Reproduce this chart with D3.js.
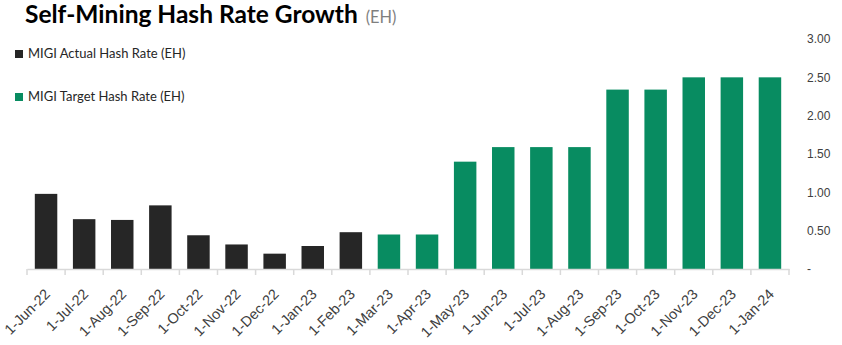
<!DOCTYPE html>
<html><head><meta charset="utf-8">
<script src="https://cdn.jsdelivr.net/npm/d3@7"></script>
<style>
html,body{margin:0;padding:0;background:#fff;}
svg{display:block;font-family:Lato,"Open Sans",sans-serif;}
</style></head>
<body>
<svg id="chart" width="842" height="345"></svg>
<script>
const categories = ["1-Jun-22","1-Jul-22","1-Aug-22","1-Sep-22","1-Oct-22","1-Nov-22","1-Dec-22","1-Jan-23","1-Feb-23","1-Mar-23","1-Apr-23","1-May-23","1-Jun-23","1-Jul-23","1-Aug-23","1-Sep-23","1-Oct-23","1-Nov-23","1-Dec-23","1-Jan-24"];
const values = [0.98,0.65,0.64,0.83,0.44,0.32,0.20,0.30,0.48,0.45,0.45,1.40,1.59,1.59,1.59,2.34,2.34,2.50,2.50,2.50];
const seriesOf = ["actual","actual","actual","actual","actual","actual","actual","actual","actual","target","target","target","target","target","target","target","target","target","target","target"];
const seriesNames = ["MIGI Actual Hash Rate (EH)","MIGI Target Hash Rate (EH)"];
const seriesKeys = ["actual","target"];
const seriesColors = ["#262626","#088c61"];
const yTicks = [0,0.5,1,1.5,2,2.5,3];
const yTickLabels = ["-","0.50","1.00","1.50","2.00","2.50","3.00"];

const svg = d3.select("#chart");
const color = d3.scaleOrdinal().domain(seriesKeys).range(seriesColors);
const x = d3.scaleBand().domain(categories).range([27,789]).paddingInner(0.41).paddingOuter(0.205);
const y = d3.scaleLinear().domain([0,3]).range([269,39]);

// title
const title = svg.append("text").attr("x",25).attr("y",23)
  .attr("font-family","Lato,sans-serif")
  .attr("font-weight","bold").attr("font-size",24).attr("fill","#000");
const t1 = title.append("tspan").text("Self-Mining Hash Rate Growth");
const t2 = title.append("tspan").attr("font-weight","normal").attr("font-size",16).attr("fill","#7f7f7f").attr("dx",8).text("(EH)");
{
  const w = t1.node().getComputedTextLength();
  const s = 333 / w;
  title.attr("font-size", 24*s);
  t2.attr("font-size",16*Math.min(s,1.05));
}

// legend
const legend = svg.append("g");
seriesKeys.forEach((k,i)=>{
  const g = legend.append("g").attr("transform",`translate(15,${50+i*43})`);
  g.append("rect").attr("width",8).attr("height",8).attr("fill",color(k));
  g.append("text").attr("x",13).attr("y",8).attr("font-size",13).attr("fill","#262626").text(seriesNames[i]);
});

// bars
svg.append("g").selectAll("rect").data(categories).join("rect")
  .attr("x",d=>x(d)).attr("width",x.bandwidth())
  .attr("y",(d,i)=>y(values[i])).attr("height",(d,i)=>y(0)-y(values[i]))
  .attr("fill",(d,i)=>color(seriesOf[i]));

// x axis
const xAxis = svg.append("g").attr("transform","translate(0,269)")
  .call(d3.axisBottom(x).tickSize(0).tickFormat(d=>d));
xAxis.select(".domain").attr("stroke","#d9d9d9").attr("stroke-width",1.5);
xAxis.selectAll(".tick text").attr("font-size",14.5).attr("fill","#404040")
  .attr("text-anchor","end").attr("dy",0).attr("y",0)
  .attr("transform","translate(5,26) rotate(-45)");
// boundary tick marks
const step = x.step();
svg.append("g").selectAll("line").data(d3.range(categories.length+1)).join("line")
  .attr("x1",i=>27+i*step).attr("x2",i=>27+i*step)
  .attr("y1",269).attr("y2",275).attr("stroke","#d9d9d9").attr("stroke-width",1.5);

// y axis on right
const yAxis = svg.append("g").attr("transform","translate(789,0)")
  .call(d3.axisRight(y).tickValues(yTicks).tickSize(0).tickFormat((d,i)=>yTickLabels[i]));
yAxis.select(".domain").remove();
yAxis.selectAll(".tick text").attr("x",18).attr("font-size",12).attr("fill","#404040").attr("text-anchor","start");
</script>
</body></html>
